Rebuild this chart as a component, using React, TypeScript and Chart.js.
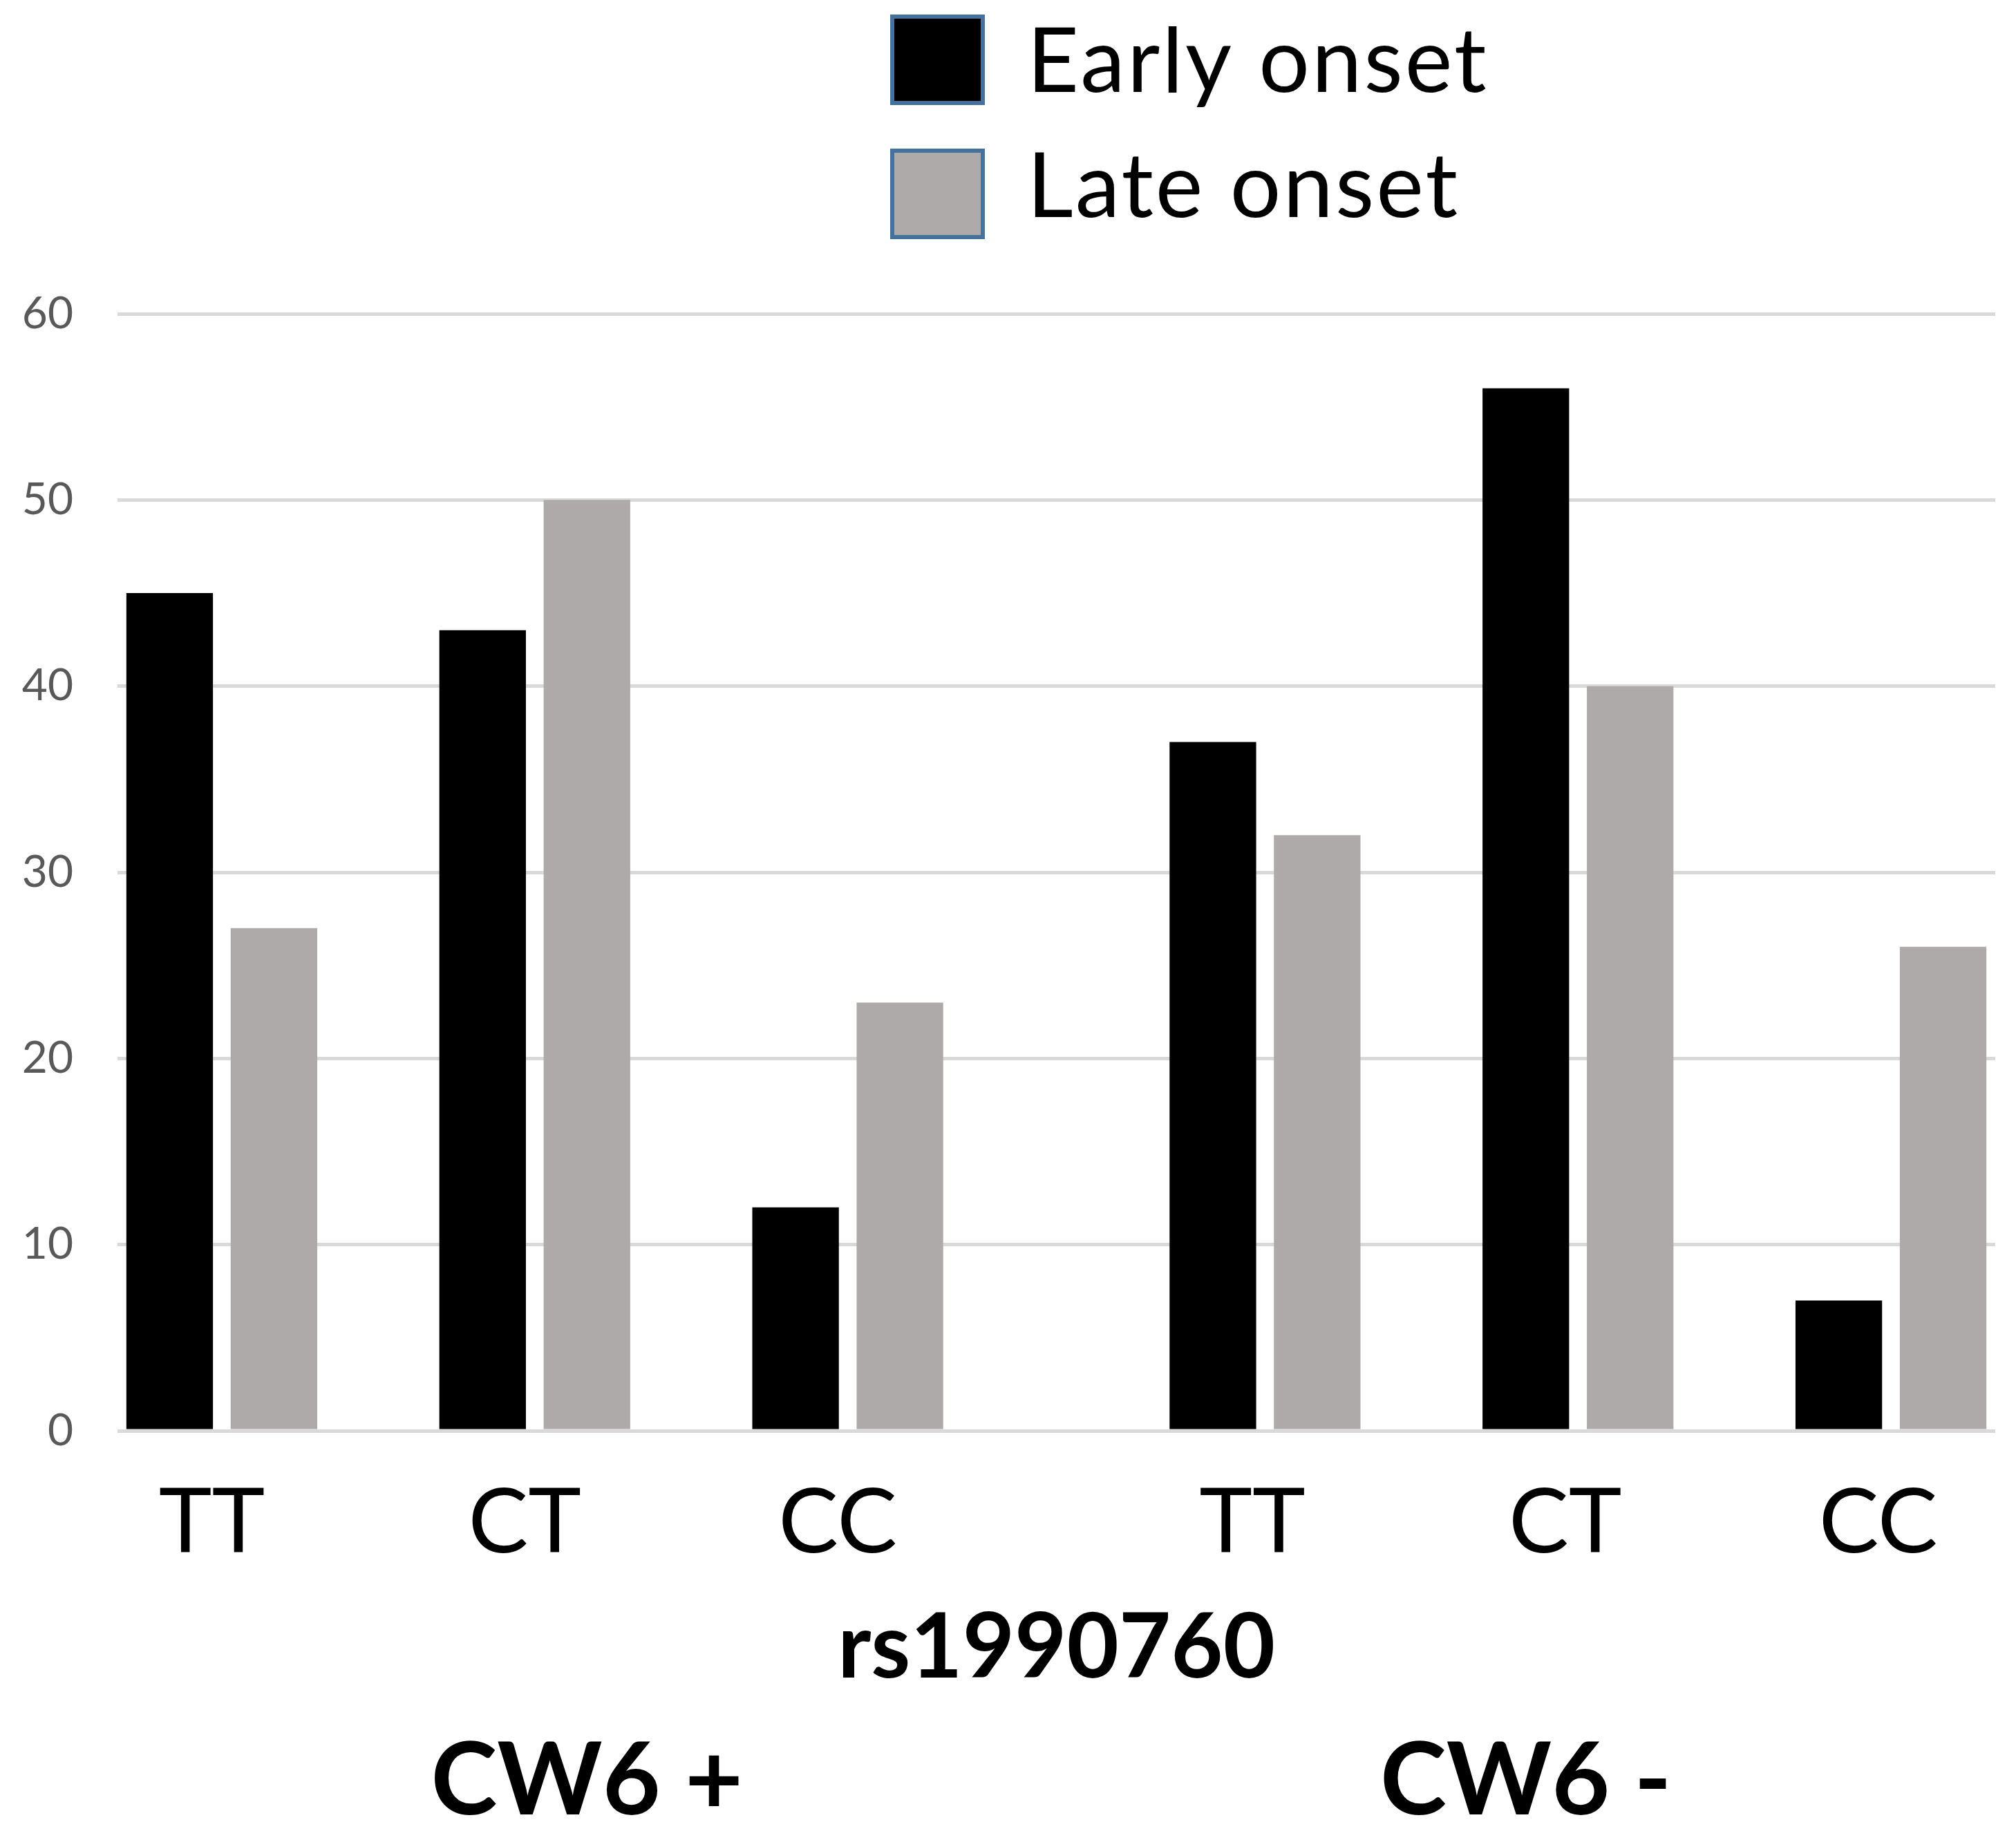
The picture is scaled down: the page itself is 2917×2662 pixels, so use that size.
import React, { useEffect, useRef } from 'react';
import { Chart, registerables } from 'chart.js';

Chart.register(...registerables);

// ---- data ----
const genotypes = ['TT', 'CT', 'CC', 'TT', 'CT', 'CC'];
const cw6Status = ['CW6 +', 'CW6 +', 'CW6 +', 'CW6 -', 'CW6 -', 'CW6 -'];
const cw6Groups = ['CW6 +', 'CW6 -'];
const earlyOnset = [45, 43, 12, 37, 56, 7];
const lateOnset = [27, 50, 23, 32, 40, 26];
const seriesNames = ['Early onset', 'Late onset'];
const snpLabel = 'rs1990760';
const yRange = { min: 0, max: 60, step: 10 };

// ---- styles ----
const EARLY_COLOR = '#000000';
const LATE_COLOR = '#AEAAAA';
const GRID_COLOR = '#D9D9D9';
const FONT = 'Lato';

const onlyGroup = (values: number[], group: string) =>
  values.map((v, i) => (cw6Status[i] === group ? v : null));

const labelsOfGroup = (group: string) => genotypes.filter((_, i) => cw6Status[i] === group);

const topLegend = {
  id: 'topLegend',
  afterDraw(chart: any) {
    const { ctx } = chart;
    const seen = new Set<string>();
    const items: any[] = [];
    chart.data.datasets.forEach((ds: any) => {
      if (!seen.has(ds.label)) {
        seen.add(ds.label);
        items.push(ds);
      }
    });
    const boxLeft = 1288;
    const boxW = 137;
    const boxH = 131;
    const boxTops = [21, 215];
    const textX = 1486;
    const baselines = [133, 314];
    ctx.save();
    items.forEach((ds, i) => {
      ctx.fillStyle = ds.backgroundColor;
      ctx.fillRect(boxLeft, boxTops[i], boxW, boxH);
      ctx.lineWidth = 6;
      ctx.strokeStyle = '#44729C';
      ctx.strokeRect(boxLeft + 3, boxTops[i] + 3, boxW - 6, boxH - 6);
      ctx.fillStyle = '#000000';
      ctx.font = `130px ${FONT}`;
      ctx.textAlign = 'left';
      ctx.textBaseline = 'alphabetic';
      try {
        (ctx as any).letterSpacing = '3px';
      } catch (e) {
        /* ignore */
      }
      ctx.fillText(ds.label, textX, baselines[i]);
    });
    ctx.restore();
  },
};

const hiddenAxisBase = {
  type: 'category',
  position: 'bottom',
  offset: true,
  grid: { display: false, drawTicks: false },
  border: { display: false },
};

export default function App() {
  const canvasRef = useRef<HTMLCanvasElement | null>(null);

  useEffect(() => {
    document.body.style.margin = '0';
    if (!canvasRef.current) return;
    Chart.defaults.font.family = FONT;

    const genotypeTicks = (labelOffset: number) => ({
      padding: 56,
      labelOffset,
      color: '#000000',
      autoSkip: false,
      maxRotation: 0,
      font: { family: FONT, size: 130, lineHeight: 1.2 },
    });

    const groupTitle = (text: string) => ({
      display: true,
      text,
      color: '#000000',
      font: { family: FONT, size: 145, weight: 'bold', lineHeight: 1.0 },
      padding: { top: 74, bottom: 0 },
    });

    const chart = new Chart(canvasRef.current, {
      type: 'bar',
      data: {
        labels: genotypes,
        datasets: [
          { label: seriesNames[0], data: onlyGroup(earlyOnset, cw6Groups[0]), backgroundColor: EARLY_COLOR, stack: 'slot1' },
          { label: seriesNames[1], data: onlyGroup(lateOnset, cw6Groups[0]), backgroundColor: LATE_COLOR, stack: 'slot2' },
          { label: seriesNames[0], data: onlyGroup(earlyOnset, cw6Groups[1]), backgroundColor: EARLY_COLOR, stack: 'slot2' },
          { label: seriesNames[1], data: onlyGroup(lateOnset, cw6Groups[1]), backgroundColor: LATE_COLOR, stack: 'slot3' },
        ] as any,
      },
      plugins: [topLegend],
      options: {
        animation: false,
        responsive: true,
        maintainAspectRatio: false,
        devicePixelRatio: 1,
        datasets: {
          bar: { categoryPercentage: 1.0, barPercentage: 0.83 },
        } as any,
        layout: { padding: { top: 454, left: 0, right: 30, bottom: 11 } },
        plugins: {
          legend: { display: false },
          tooltip: { enabled: false },
        },
        scales: {
          // axis the bars are drawn on; carries the SNP title
          x: {
            ...hiddenAxisBase,
            stacked: true,
            weight: 1,
            ticks: { display: false },
            title: {
              display: true,
              text: snpLabel,
              color: '#000000',
              font: { family: FONT, size: 130, weight: 'bold', lineHeight: 0.723 },
              padding: { top: 0, bottom: 0 },
            },
          },
          // genotype labels, CW6+ half
          xa: {
            ...hiddenAxisBase,
            labels: labelsOfGroup(cw6Groups[0]),
            stack: 'genotype',
            stackWeight: 1,
            weight: 0,
            ticks: genotypeTicks(-90),
          },
          // genotype labels, CW6- half
          xb: {
            ...hiddenAxisBase,
            labels: labelsOfGroup(cw6Groups[1]),
            stack: 'genotype',
            stackWeight: 1,
            weight: 0,
            ticks: genotypeTicks(57),
          },
          // CW6 group titles
          xc: {
            ...hiddenAxisBase,
            labels: labelsOfGroup(cw6Groups[0]),
            stack: 'cw6',
            stackWeight: 1,
            weight: 2,
            ticks: { display: false },
            title: groupTitle(cw6Groups[0]),
          },
          xd: {
            ...hiddenAxisBase,
            labels: labelsOfGroup(cw6Groups[1]),
            stack: 'cw6',
            stackWeight: 1,
            weight: 2,
            ticks: { display: false },
            title: groupTitle(cw6Groups[1]),
          },
          y: {
            type: 'linear',
            stacked: true,
            min: yRange.min,
            max: yRange.max,
            grid: { color: GRID_COLOR, lineWidth: 5, drawTicks: false },
            border: { display: false },
            ticks: {
              stepSize: yRange.step,
              padding: 64,
              color: '#595959',
              font: { family: FONT, size: 64 },
            },
            afterFit: (scale: any) => {
              scale.width = 170;
            },
          },
        } as any,
      },
    });

    return () => chart.destroy();
  }, []);

  return (
    <div style={{ position: 'absolute', left: 0, top: 0, width: 2917, height: 2662, background: '#ffffff' }}>
      <canvas ref={canvasRef} style={{ display: 'block' }} />
    </div>
  );
}
